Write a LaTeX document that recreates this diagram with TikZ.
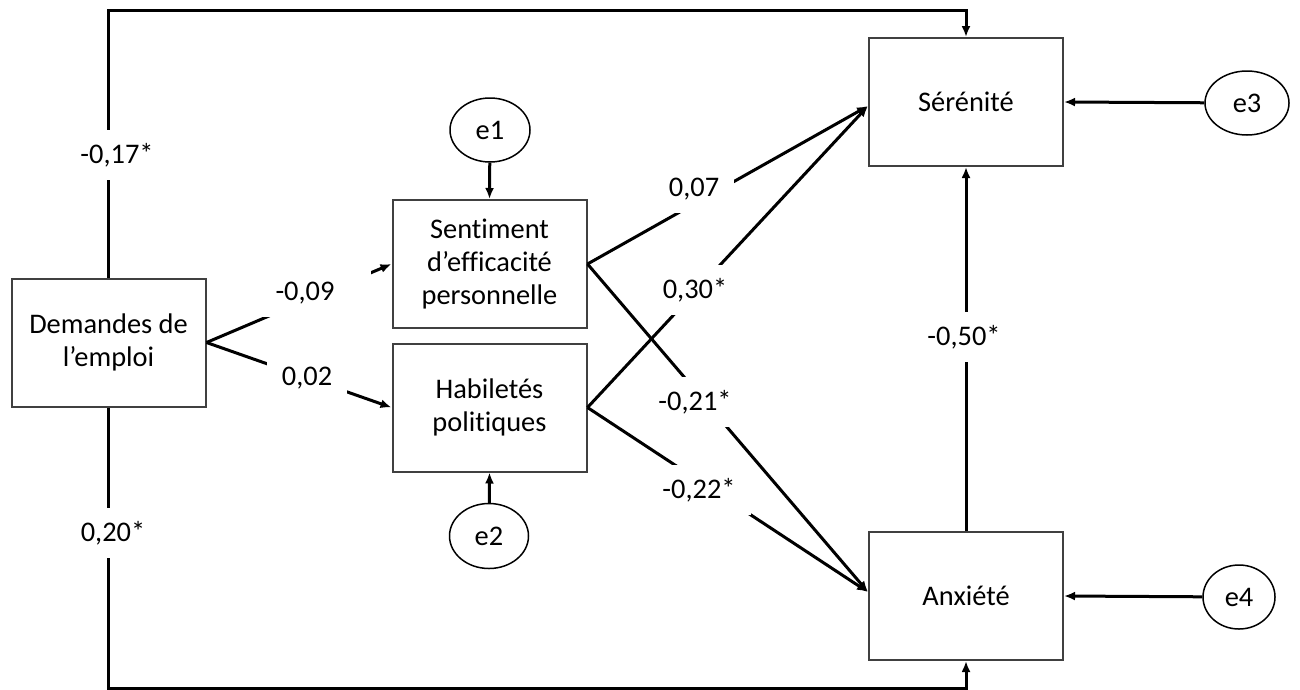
\documentclass[tikz,border=0pt]{standalone}
\usepackage{fontspec}
\setmainfont{Carlito}[Ligatures=NoCommon]
\usetikzlibrary{arrows.meta,shapes.geometric,calc}
\begin{document}
\begin{tikzpicture}[x=1pt,y=-1pt,
  every node/.style={font=\fontsize{28.4}{33}\selectfont},
  varbox/.style={draw=black!75,line width=2pt,minimum width=194pt,minimum height=128pt,align=center,inner sep=0pt},
  errvar/.style={ellipse,draw,line width=1.5pt,inner sep=0pt},
  link/.style={line width=3pt,-{Latex[length=11pt,width=9pt]}},
  coef/.style={fill=white,inner xsep=15pt,inner ysep=13pt}]
\path[use as bounding box] (0,0) rectangle (1300,689);

% observed variables
\node[varbox] (D)  at (108.5,342.5) {Demandes de\\l’emploi};
\node[varbox] (SE) at (489.5,264)   {Sentiment\\d’efficacité\\personnelle};
\node[varbox] (HP) at (489.5,407.5) {Habiletés\\politiques};
\node[varbox] (S)  at (966,102)     {Sérénité};
\node[varbox] (A)  at (966,596)     {Anxiété};

% error terms
\node[errvar,minimum width=80pt,minimum height=64pt] (e1) at (490,130)  {e1};
\node[errvar,minimum width=79pt,minimum height=65pt] (e2) at (489,536)  {e2};
\node[errvar,minimum width=84pt,minimum height=64pt] (e3) at (1247,103) {e3};
\node[errvar,minimum width=72pt,minimum height=64pt] (e4) at (1239,597) {e4};

\coordinate (Sin) at ($(S.west)+(0,4)$);
\coordinate (Ain) at ($(A.west)+(0,-4)$);

% paths
\draw[link] (D.north) -- (D.north |- 0,10) -| (S.north);
\draw[link] (D.south) -- (D.south |- 0,688) -| (A.south);
\draw[link] (D.east) -- (SE.west);
\draw[link] (D.east) -- (HP.west);
\draw[link] (SE.east) -- (Sin);
\draw[link] (SE.east) -- (Ain);
\draw[link] (HP.east) -- (Sin);
\draw[link] (HP.east) -- (Ain);
\draw[link] (A.north) -- (S.south);
\draw[link] (e1) -- (SE.north);
\draw[link] (e2) -- (HP.south);
\draw[link] (e3) -- (S.east);
\draw[link] (e4) -- (A.east);

% coefficients
\node[coef] at (117,155) {-0,17*};
\node[coef] at (113,533) {0,20*};
\node[coef,inner xsep=37pt] at (305,293) {-0,09};
\node[coef] at (307,378) {0,02};
\node[coef] at (694,189) {0,07};
\node[coef] at (695,290) {0,30*};
\node[coef] at (695,402) {-0,21*};
\node[coef] at (699,490) {-0,22*};
\node[coef] at (964,337) {-0,50*};
\end{tikzpicture}
\end{document}
